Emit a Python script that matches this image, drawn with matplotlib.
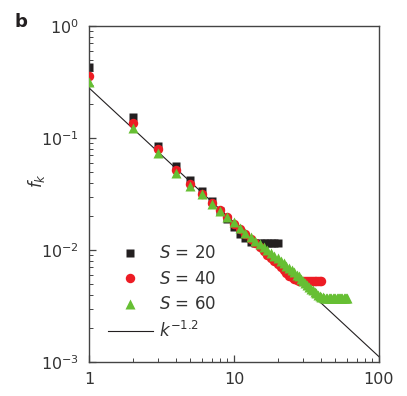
import numpy as np
from matplotlib import pyplot as plt
from matplotlib.ticker import LogLocator, NullFormatter, FixedLocator, FixedFormatter

# Data: f_k for k = 1..S
f_s20 = [0.43, 0.153, 0.085, 0.056, 0.042, 0.0335, 0.0275, 0.0222, 0.0188, 0.0160,
         0.0140, 0.0127, 0.0119, 0.0116, 0.0115, 0.0115, 0.0115, 0.0115, 0.0115, 0.0115]

f_s40 = [0.36, 0.137, 0.080, 0.052, 0.039, 0.0318, 0.0265, 0.0226, 0.0196, 0.0172,
         0.0154, 0.0139, 0.0126, 0.0115, 0.0106, 0.0098, 0.0091, 0.0085, 0.0080, 0.0075,
         0.0070, 0.0066, 0.0062, 0.0059, 0.0057, 0.0055, 0.0054, 0.0053, 0.0053, 0.0053,
         0.0053, 0.0053, 0.0053, 0.0053, 0.0053, 0.0053, 0.0053, 0.0053, 0.0053, 0.0053]

f_s60 = [0.315, 0.124, 0.073, 0.049, 0.037, 0.0315, 0.026, 0.0225, 0.0198, 0.0176,
         0.0158, 0.0143, 0.0131, 0.0121, 0.0113, 0.0106, 0.0100, 0.0094, 0.0089, 0.0084,
         0.0080, 0.0076, 0.0072, 0.0069, 0.0066, 0.0063, 0.0060, 0.0058, 0.0055, 0.0053,
         0.0051, 0.0049, 0.0047, 0.0045, 0.0044, 0.0042, 0.0041, 0.0040, 0.0039, 0.0038,
         0.00378, 0.00375, 0.00375, 0.00375, 0.00375, 0.00375, 0.00375, 0.00375, 0.00375, 0.00375,
         0.00375, 0.00375, 0.00375, 0.00375, 0.00375, 0.00375, 0.00375, 0.00375, 0.00375, 0.00375]

# Reference power law k^-1.2
LINE_COEF = 0.28
LINE_EXP = -1.2
line_k = [1, 100]

x_ticks = [1, 10, 100]
x_tick_labels = ['1', '10', '100']

BLACK = '#231f20'
RED = '#ed1c24'
GREEN = '#66bf33'
TEXT = '#333333'

plt.rcParams['font.family'] = 'DejaVu Sans'
plt.rcParams['mathtext.fontset'] = 'dejavusans'

fig = plt.figure(figsize=(4.07, 3.96), dpi=100)
ax = fig.add_axes([0.2187, 0.0859, 0.7125, 0.8485])

k_line = np.array(line_k, dtype=float)
ax.plot(k_line, LINE_COEF * k_line ** LINE_EXP, '-', color=BLACK, lw=0.8,
        label='$k^{-1.2}$', zorder=1)

ax.plot(np.arange(1, len(f_s20) + 1), f_s20, 's', color=BLACK, ms=5.8,
        mec='none', label='$S$ = 20', zorder=2)
ax.plot(np.arange(1, len(f_s40) + 1), f_s40, 'o', color=RED, ms=6.8,
        mec='none', label='$S$ = 40', zorder=3)
ax.plot(np.arange(1, len(f_s60) + 1), f_s60, '^', color=GREEN, ms=7.4,
        mec='none', label='$S$ = 60', zorder=4)

ax.set_xscale('log')
ax.set_yscale('log')
ax.set_xlim(1, 100)
ax.set_ylim(1e-3, 1)

ax.xaxis.set_major_locator(FixedLocator(x_ticks))
ax.xaxis.set_major_formatter(FixedFormatter(x_tick_labels))
ax.xaxis.set_minor_locator(LogLocator(base=10, subs=np.arange(2, 10)))
ax.xaxis.set_minor_formatter(NullFormatter())
ax.yaxis.set_minor_locator(LogLocator(base=10, subs=np.arange(2, 10)))
ax.yaxis.set_minor_formatter(NullFormatter())

ax.tick_params(which='both', direction='in', top=False, right=False,
               colors='#444444', labelcolor=TEXT, labelsize=11.5)
ax.tick_params(which='major', length=5, width=0.9, pad=7)
ax.tick_params(which='minor', length=3, width=0.7)
for sp in ax.spines.values():
    sp.set_color('#444444')
    sp.set_linewidth(1.0)

ax.set_ylabel('$f_k$', fontsize=12, color=TEXT)
ax.yaxis.set_label_coords(-0.145, 0.54)

# Legend: markers first, power law last
handles, labels = ax.get_legend_handles_labels()
order = [1, 2, 3, 0]
ax.legend([handles[i] for i in order], [labels[i] for i in order],
          loc='lower left', bbox_to_anchor=(0.013, 0.018), frameon=False,
          fontsize=12, handlelength=2.7, handletextpad=0.35,
          labelspacing=0.45, labelcolor=TEXT, numpoints=1)

fig.text(0.035, 0.945, 'b', fontsize=13, fontweight='bold', color=BLACK,
         va='center', ha='left')

fig.savefig('out.png', dpi=100)
